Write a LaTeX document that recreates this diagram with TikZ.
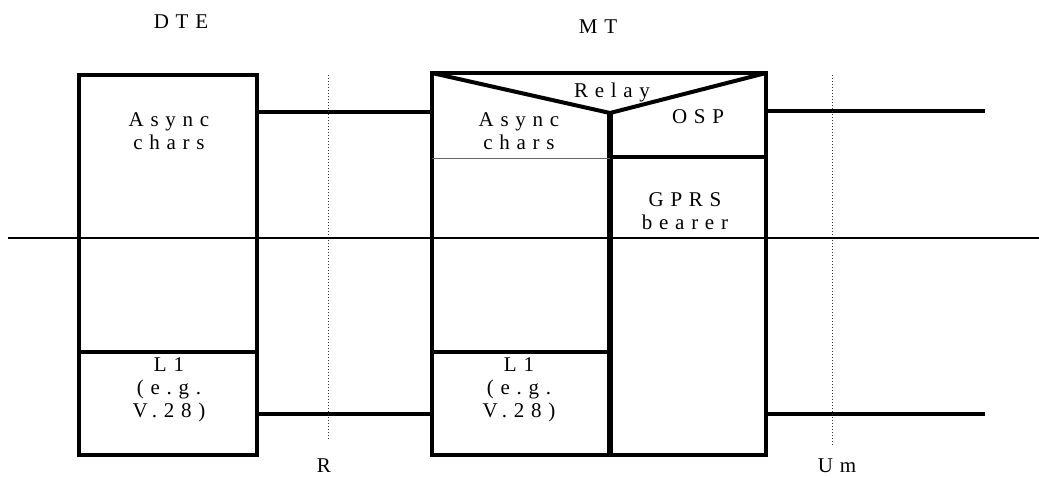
\documentclass[tikz,border=0pt]{standalone}
\usepackage{fontspec}
\setmainfont{Liberation Serif}[LetterSpace=32]
\begin{document}
\begin{tikzpicture}[x=1pt,y=-1pt,
  box/.style={draw,line width=4pt,minimum width=#1,inner sep=0pt,outer sep=0pt},
  thick/.style={line width=4pt},
  conn/.style={line width=3.5pt},
  ref/.style={dotted,line width=1pt,black!80},
  lbl/.style={font=\fontsize{21}{23}\selectfont,align=center,inner sep=0pt}]
\useasboundingbox (0,0) rectangle (1039,477);
% boxes
\node[box=178pt,minimum height=380pt] (dte) at (168,265) {};
\node[box=334pt,minimum height=382pt] (mt) at (599,264) {};
% MT inner structure
\coordinate (relayL) at (432,73);
\coordinate (relayM) at (610,113);
\coordinate (relayR) at (766,73);
\coordinate (divB) at (610,455);
\draw[line width=6pt] (relayM) -- (divB);
\draw[line width=4pt,line join=miter] (relayL) -- (relayM) -- (relayR);
\coordinate (asyncBL) at (432,158);
\coordinate (asyncBR) at (610,158);
\draw[line width=1pt,black!60] (asyncBL) -- (asyncBR);
\coordinate (ospBL) at (610,157);
\coordinate (ospBR) at (766,157);
\draw[thick] (ospBL) -- (ospBR);
\coordinate (mtl1L) at (432,352);
\coordinate (mtl1R) at (610,352);
\draw[thick] (mtl1L) -- (mtl1R);
\coordinate (dtel1L) at (79,352);
\coordinate (dtel1R) at (257,352);
\draw[thick] (dtel1L) -- (dtel1R);
% connectors
\coordinate (c1a) at (257,112); \coordinate (c1b) at (432,112);
\coordinate (c2a) at (257,414); \coordinate (c2b) at (432,414);
\coordinate (c3a) at (766,111); \coordinate (c3b) at (985,111);
\coordinate (c4a) at (766,414); \coordinate (c4b) at (985,414);
\draw[conn] (c1a) -- (c1b);
\draw[conn] (c2a) -- (c2b);
\draw[conn] (c3a) -- (c3b);
\draw[conn] (c4a) -- (c4b);
% reference points
\coordinate (rT) at (328,75); \coordinate (rB) at (328,440);
\coordinate (uT) at (832,75); \coordinate (uB) at (832,445);
\draw[ref] (rT) -- (rB);
\draw[ref] (uT) -- (uB);
% horizontal line
\coordinate (hL) at (8,238); \coordinate (hR) at (1039,238);
\draw[line width=1.5pt] (hL) -- (hR);
% labels
\node[lbl] (tdte) at (181,22) {DTE};
\node[lbl] (tmt) at (598,27) {MT};
\node[lbl] (tr) at (324,466) {R};
\node[lbl] (tum) at (837,466) {Um};
\node[lbl] (dasync) at (169,131) {Async\\chars};
\node[lbl] (dl1) at (169,390) {L1\\(e.g.\\V.28)};
\node[lbl] (masync) at (519,131) {Async\\chars};
\node[lbl] (relay) at (612,92) {Relay};
\node[lbl] (osp) at (698,117) {OSP};
\node[lbl] (gprs) at (685,211) {GPRS\\bearer};
\node[lbl] (ml1) at (519,390) {L1\\(e.g.\\V.28)};
\end{tikzpicture}
\end{document}
